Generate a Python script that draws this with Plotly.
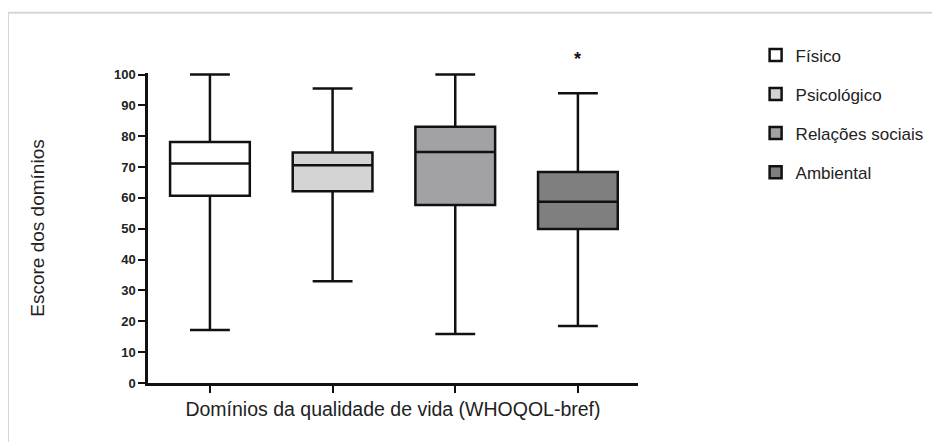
import plotly.graph_objects as go

categories = ["Físico", "Psicológico", "Relações sociais", "Ambiental"]
upper = [100, 95.5, 100, 93.9]
q3 = [78.1, 74.7, 83.1, 68.4]
median = [71.2, 70.6, 74.9, 58.8]
q1 = [60.7, 62.2, 57.7, 49.9]
lower = [17.2, 33.0, 15.9, 18.5]
fills = ["#ffffff", "#d4d4d4", "#a2a2a6", "#7f7f7f"]
y_ticks = [0, 10, 20, 30, 40, 50, 60, 70, 80, 90, 100]
star_category = "Ambiental"
star_y = 105.6

Y_MAX = 100.5

fig = go.Figure()
for i, c in enumerate(categories):
    fig.add_trace(go.Box(
        x=[c], q1=[q1[i]], median=[median[i]], q3=[q3[i]],
        lowerfence=[lower[i]], upperfence=[upper[i]],
        name=c, legendgroup=c,
        fillcolor=fills[i], line=dict(color="#111111", width=2.5),
        width=0.65, whiskerwidth=0.5, boxpoints=False,
    ))

# star sits above the y range, so it is placed in y-domain units
fig.add_annotation(x=categories.index(star_category), y=star_y / Y_MAX,
                   xref="x", yref="y domain",
                   text="<b>*</b>", showarrow=False, yshift=10,
                   font=dict(family="Liberation Sans", size=18, color="#111111"))

# page body has an 8px margin, so the figure is 8px smaller and margins shifted
fig.add_shape(type="rect", xref="paper", yref="paper",
              x0=-0.2857, x1=2.0, y0=-0.5, y1=1.194,
              line=dict(color="#d6d6d6", width=2), fillcolor="rgba(0,0,0,0)", layer="below")

fig.update_layout(
    width=932, height=434,
    margin=dict(l=140, r=302, t=65, b=59),
    paper_bgcolor="white", plot_bgcolor="white",
    showlegend=True,
    legend=dict(x=1.24, y=1.115, xanchor="left", yanchor="top",
                font=dict(family="Liberation Sans", size=17, color="#222"),
                traceorder="grouped", tracegroupgap=14,
                bgcolor="rgba(0,0,0,0)"),
    xaxis=dict(categoryorder="array", categoryarray=categories,
               range=[-0.505, 3.49], showticklabels=False,
               showline=True, linecolor="#111", linewidth=2.5,
               ticks="outside", ticklen=7, tickwidth=2, tickcolor="#111",
               showgrid=False, zeroline=False,
               title=dict(text="Domínios da qualidade de vida (WHOQOL-bref)",
                          font=dict(family="Liberation Sans", size=19.5, color="#222"),
                          standoff=11)),
    yaxis=dict(range=[0, Y_MAX], tickvals=y_ticks,
               showline=True, linecolor="#111", linewidth=2.5,
               ticks="outside", ticklen=7, tickwidth=2, tickcolor="#111",
               showgrid=False, zeroline=False,
               tickfont=dict(family="Liberation Sans", size=13, color="#222", weight="bold"),
               title=dict(text="Escore dos domínios",
                          font=dict(family="Liberation Sans", size=19, color="#222"),
                          standoff=65)),
)
fig.write_html("out.html")
